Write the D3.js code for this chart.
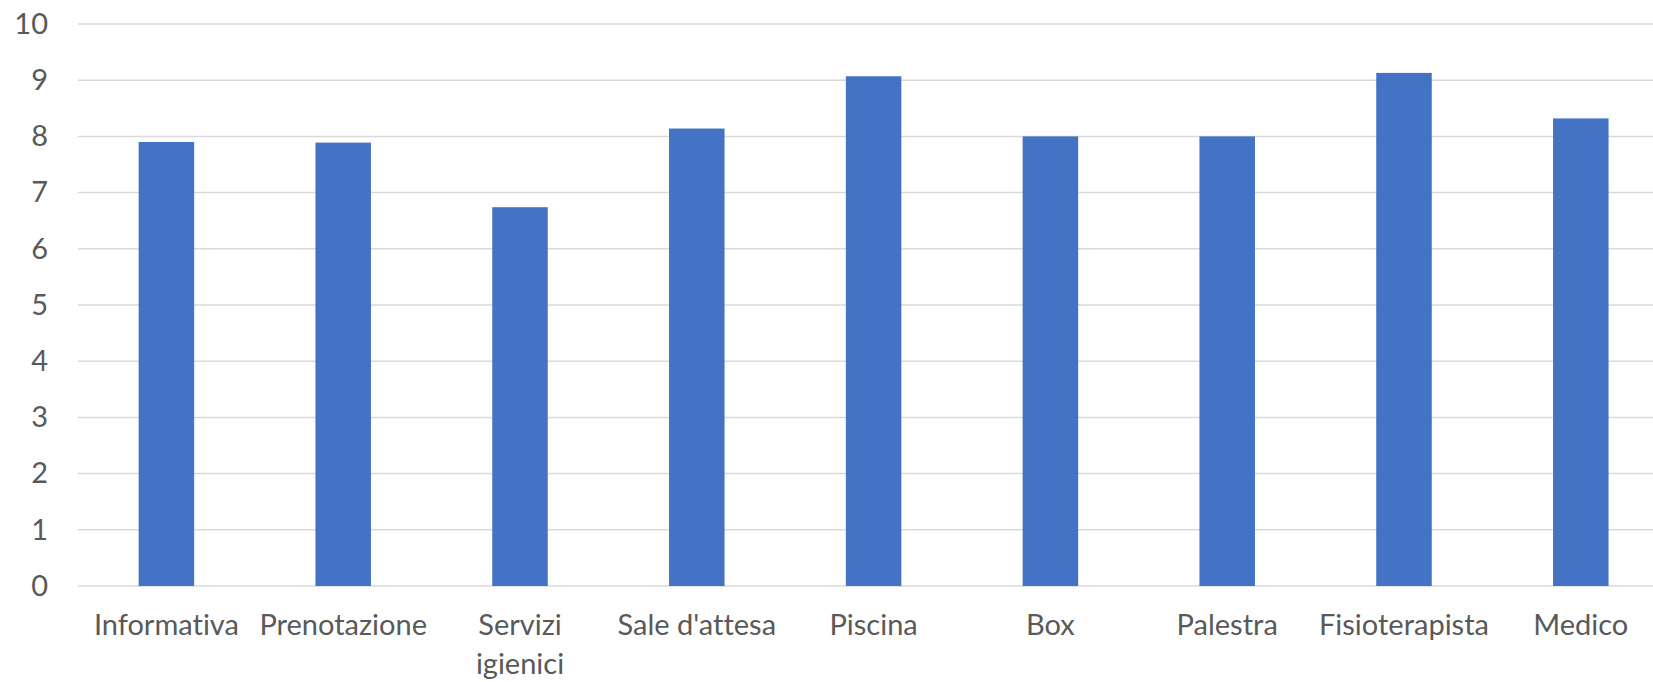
<!DOCTYPE html>
<html lang="it">

<head>
	<meta charset="utf-8">
	<title>Valutazione servizi</title>
	<script src="https://d3js.org/d3.v7.min.js"></script>
	<style>
		body {
			margin: 0;
			background: #fff;
			font-family: Lato, "Open Sans", sans-serif;
		}

		.tick text {
			fill: #595959;
			font-variant-ligatures: none;
		}
	</style>
</head>

<body>
	<script>
		// categories and scores
		var categories = ["Informativa", "Prenotazione", "Servizi igienici", "Sale d'attesa", "Piscina",
			"Box", "Palestra", "Fisioterapista", "Medico"];
		var values = [7.90, 7.89, 6.74, 8.14, 9.07, 8.00, 8.00, 9.13, 8.32];
		var yTicks = [0, 1, 2, 3, 4, 5, 6, 7, 8, 9, 10];

		var w = 1653;
		var h = 682;
		var padLeft = 78;
		var padTop = 24;
		var baseY = 586;
		var step = 176.8;

		var xScale = d3.scaleBand()
			.domain(categories)
			.range([padLeft, padLeft + step * categories.length])
			.paddingInner(0.686)
			.paddingOuter(0.343);

		var yScale = d3.scaleLinear().domain([0, 10]).range([baseY, padTop]);

		var svg = d3.select("body")
			.append("svg")
			.attr("width", w)
			.attr("height", h);

		// gridlines
		svg.append("g")
			.selectAll("line")
			.data(yTicks)
			.enter()
			.append("line")
			.attr("x1", padLeft)
			.attr("x2", padLeft + step * categories.length)
			.attr("y1", function (d) { return yScale(d); })
			.attr("y2", function (d) { return yScale(d); })
			.style("stroke", "#d9d9d9")
			.style("stroke-width", 1.5);

		// y axis labels
		var yAxis = d3.axisLeft(yScale).tickValues(yTicks).tickSize(0).tickPadding(30);
		svg.append("g")
			.attr("transform", "translate(" + padLeft + ",0)")
			.call(yAxis)
			.call(function (g) { g.select(".domain").remove(); })
			.selectAll("text")
			.style("font-family", "Lato, 'Open Sans', sans-serif")
			.style("font-size", "29px");

		// bars
		svg.selectAll("rect")
			.data(values)
			.enter()
			.append("rect")
			.attr("x", function (d, i) { return xScale(categories[i]); })
			.attr("y", function (d) { return yScale(d); })
			.attr("width", xScale.bandwidth())
			.attr("height", function (d) { return baseY - yScale(d); })
			.attr("fill", "#4472c4");

		// x axis labels
		var xAxis = d3.axisBottom(xScale).tickSize(0).tickPadding(28);
		svg.append("g")
			.attr("transform", "translate(0," + baseY + ")")
			.call(xAxis)
			.call(function (g) { g.select(".domain").remove(); })
			.selectAll("text")
			.style("font-family", "Lato, 'Open Sans', sans-serif")
			.style("font-size", "29px")
			.call(wrap, step);

		// wrap long category names onto a second line
		function wrap(texts, width) {
			texts.each(function () {
				var text = d3.select(this);
				var words = text.text().split(" ");
				var y = text.attr("y");
				var dy = parseFloat(text.attr("dy"));
				var line = [];
				var lineNo = 0;
				var tspan = text.text(null).append("tspan").attr("x", 0).attr("y", y).attr("dy", dy + "em");
				words.forEach(function (word) {
					line.push(word);
					tspan.text(line.join(" "));
					if (tspan.node().getComputedTextLength() > width && line.length > 1) {
						line.pop();
						tspan.text(line.join(" "));
						line = [word];
						lineNo++;
						tspan = text.append("tspan")
							.attr("x", 0)
							.attr("y", y)
							.attr("dy", (dy + lineNo * 1.35) + "em")
							.text(word);
					}
				});
			});
		}
	</script>
</body>

</html>
